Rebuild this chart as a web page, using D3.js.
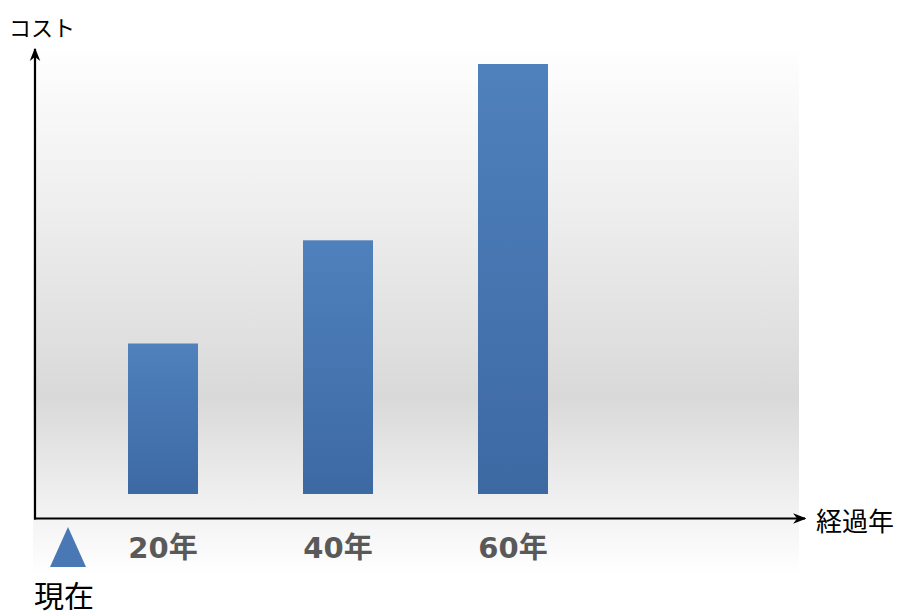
<!DOCTYPE html>
<html>
<head>
<meta charset="utf-8">
<script src="https://cdn.jsdelivr.net/npm/d3@7"></script>
<style>
  body { margin: 0; background: #fff; }
  svg { display: block; font-family: "Noto Sans CJK JP", sans-serif; }
</style>
</head>
<body>
<script>
var width = 902,
    height = 615;

// data
var years = ["20年", "40年", "60年"];
var costs = [35, 59, 100];
var yAxisLabel = "コスト";
var xAxisLabel = "経過年";
var nowLabel = "現在";

var svg = d3.select("body").append("svg")
    .attr("width", width)
    .attr("height", height);

var defs = svg.append("defs");

var bg = defs.append("linearGradient")
    .attr("id", "bg").attr("x1", 0).attr("y1", 0).attr("x2", 0).attr("y2", 1);
[[0, "#fefefe"], [0.3, "#eeeeee"], [0.66, "#d9d9d9"], [0.86, "#f0f0f0"], [1, "#ffffff"]]
  .forEach(s => bg.append("stop").attr("offset", s[0]).attr("stop-color", s[1]));

var barGrad = defs.append("linearGradient")
    .attr("id", "bar").attr("x1", 0).attr("y1", 0).attr("x2", 0).attr("y2", 1);
barGrad.append("stop").attr("offset", 0).attr("stop-color", "#4f81bd");
barGrad.append("stop").attr("offset", 1).attr("stop-color", "#3d69a3");

defs.append("marker")
    .attr("id", "arrow")
    .attr("viewBox", "0 0 10 10")
    .attr("refX", 9).attr("refY", 5)
    .attr("markerWidth", 6).attr("markerHeight", 6)
    .attr("markerUnits", "strokeWidth")
    .attr("orient", "auto")
  .append("path")
    .attr("d", "M0,1 L10,5 L0,9 L3,5 Z")
    .attr("fill", "#000");

// plot background
svg.append("rect")
    .attr("x", 33).attr("y", 52)
    .attr("width", 766).attr("height", 523)
    .attr("fill", "url(#bg)");

var x = d3.scaleBand()
    .domain(years)
    .range([75.5, 600.5])
    .paddingInner(0.6)
    .paddingOuter(0.3);

var y = d3.scaleLinear()
    .domain([0, 100])
    .range([494, 64]);

svg.append("g")
  .selectAll("rect")
  .data(costs)
  .join("rect")
    .attr("x", (d, i) => x(years[i]))
    .attr("y", d => y(d))
    .attr("width", x.bandwidth())
    .attr("height", d => y(0) - y(d))
    .attr("fill", "url(#bar)");

// axes
var x0 = 35, yBase = 518.5;
svg.append("line")
    .attr("x1", x0).attr("y1", yBase + 1)
    .attr("x2", x0).attr("y2", 49)
    .attr("stroke", "#000").attr("stroke-width", 2.2)
    .attr("marker-end", "url(#arrow)");
svg.append("line")
    .attr("x1", x0 - 1).attr("y1", yBase)
    .attr("x2", 805).attr("y2", yBase)
    .attr("stroke", "#000").attr("stroke-width", 2.2)
    .attr("marker-end", "url(#arrow)");

// tick labels
svg.append("g")
  .selectAll("text")
  .data(years)
  .join("text")
    .attr("x", d => x(d) + x.bandwidth() / 2)
    .attr("y", 558)
    .attr("text-anchor", "middle")
    .style("font-family", "'DejaVu Sans', 'Noto Sans CJK JP', sans-serif")
    .attr("font-size", 29)
    .attr("font-weight", "bold")
    .attr("fill", "#595959")
    .text(d => d);

svg.append("text")
    .attr("x", 9).attr("y", 36)
    .attr("font-size", 22)
    .attr("fill", "#000")
    .text(yAxisLabel);

svg.append("text")
    .attr("x", 816).attr("y", 531)
    .attr("font-size", 26)
    .attr("fill", "#000")
    .text(xAxisLabel);

// now marker
svg.append("path")
    .attr("d", "M68,527 L86,567 L50,567 Z")
    .attr("fill", "#4a78b5");

svg.append("text")
    .attr("x", 34).attr("y", 607)
    .attr("font-size", 30)
    .attr("fill", "#000")
    .text(nowLabel);
</script>
</body>
</html>
